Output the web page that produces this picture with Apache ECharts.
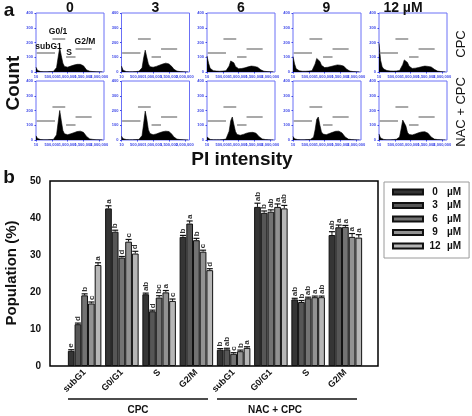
<!DOCTYPE html>
<html><head><meta charset="utf-8">
<script src="https://cdn.jsdelivr.net/npm/echarts@6/dist/echarts.min.js"></script>
<style>html,body{margin:0;padding:0;background:#fff}#c{width:472px;height:416px}</style>
</head><body><div id="c"></div>
<script>
const FONT = 'Liberation Sans, Arial, sans-serif';

// ---------- Panel a data ----------
const DOSE_TITLES = ['0', '3', '6', '9', '12 µM'];
const ROW_LABELS = ['CPC', 'NAC + CPC'];
const PI_TICK_LABELS = ['10', '500,000', '1,000,000', '1,500,000', '2,000,000'];
const COUNT_TICK_LABELS = ['0', '100', '200', '300', '400'];
const PI_BINS = [0, 50000, 100000, 150000, 200000, 250000, 300000, 350000, 400000, 450000,
  500000, 550000, 600000, 650000, 700000, 750000, 800000, 850000, 900000, 950000,
  1000000, 1050000, 1100000, 1150000, 1200000, 1250000, 1300000, 1350000, 1400000, 1450000,
  1500000, 1550000, 1600000, 1650000, 1700000, 1750000, 1800000, 1850000, 1900000, 1950000,
  2000000, 2050000, 2100000];
const HIST_CPC_0  = [32,10,4,3,2,2,2,2,2,3, 3,4,8,30,100,165,110,60,38,32, 33,36,40,44,47,50,52,54,52,50, 42,28,14,8,5,4,3,2,2,1, 1,1,1];
const HIST_CPC_3  = [40,12,5,3,3,2,2,2,3,3, 4,5,8,28,95,148,100,55,36,30, 32,35,38,42,46,50,54,58,60,58, 55,48,35,20,10,6,4,3,2,2, 1,1,1];
const HIST_CPC_6  = [108,60,25,14,9,7,6,5,5,5, 6,6,8,14,40,75,88,62,38,26, 22,22,24,26,28,32,35,38,40,40, 38,36,32,24,15,8,5,4,3,2, 2,1,1];
const HIST_CPC_9  = [105,55,22,12,8,6,5,5,5,5, 6,7,9,18,55,92,104,72,45,34, 30,30,32,34,37,40,43,46,48,48, 46,44,40,30,18,10,6,4,3,2, 2,1,1];
const HIST_CPC_12 = [195,80,35,20,14,10,8,7,6,6, 6,7,8,10,20,50,82,92,65,40, 28,24,24,26,28,30,33,36,38,40, 40,38,36,34,28,18,10,6,4,3, 2,2,1];
const HIST_NAC_0  = [28,10,4,3,2,2,2,2,2,3, 3,4,8,35,120,200,130,65,42,36, 36,38,42,46,50,54,57,60,60,58, 52,40,24,12,7,5,4,3,2,2, 1,1,1];
const HIST_NAC_3  = [26,9,4,3,2,2,2,2,2,3, 3,4,8,30,110,196,140,70,44,36, 36,38,41,45,49,53,56,59,60,60, 57,50,38,22,12,6,4,3,2,2, 1,1,1];
const HIST_NAC_6  = [20,8,4,3,2,2,2,2,2,3, 3,4,6,16,60,130,156,105,58,38, 32,32,34,38,42,46,49,51,52,52, 50,46,36,22,12,7,4,3,2,2, 1,1,1];
const HIST_NAC_9  = [24,8,4,3,2,2,2,2,2,3, 3,4,6,18,70,140,156,100,55,40, 36,36,40,44,48,52,56,59,60,60, 56,48,34,20,10,6,4,3,2,2, 1,1,1];
const HIST_NAC_12 = [40,14,6,4,3,2,2,2,3,3, 4,5,8,20,75,135,148,95,52,38, 34,34,37,41,45,49,52,55,56,56, 53,46,34,20,10,6,4,3,2,2, 1,1,1];
const HISTS = [
  [HIST_CPC_0, HIST_CPC_3, HIST_CPC_6, HIST_CPC_9, HIST_CPC_12],
  [HIST_NAC_0, HIST_NAC_3, HIST_NAC_6, HIST_NAC_9, HIST_NAC_12]
];
const GATE_NAMES = ['subG1', 'G0/1', 'S', 'G2/M'];
const GATE_START = [20000, 520000, 950000, 1250000];
const GATE_END   = [600000, 925000, 1250000, 1760000];
const GATE_LEVEL = [128, 228, 104, 160];

// ---------- Panel b data ----------
const PHASES = ['subG1', 'G0/G1', 'S', 'G2/M', 'subG1', 'G0/G1', 'S', 'G2/M'];
const GROUPS = ['CPC', 'NAC + CPC'];
const DOSE_NAMES = ['0 µM', '3 µM', '6 µM', '9 µM', '12 µM'];
const POP_0  = [4.1, 42.6, 19.4, 34.9, 4.4, 43.0, 18.0, 35.4];
const POP_3  = [11.3, 36.3, 14.8, 38.5, 4.5, 41.4, 17.3, 37.5];
const POP_6  = [19.1, 29.3, 18.5, 34.0, 3.3, 41.7, 18.3, 37.6];
const POP_9  = [16.9, 33.6, 19.9, 30.9, 4.0, 43.0, 18.6, 34.9];
const POP_12 = [27.3, 30.4, 17.6, 25.9, 4.9, 42.6, 18.6, 34.7];
const ERR_0  = [0.3, 0.7, 0.3, 0.4, 0.3, 1.0, 0.3, 0.9];
const ERR_3  = [0.3, 0.4, 0.3, 0.7, 0.3, 0.5, 0.4, 0.6];
const ERR_6  = [0.4, 0.3, 0.5, 0.5, 0.3, 0.5, 0.3, 0.4];
const ERR_9  = [0.4, 0.6, 0.5, 0.4, 0.3, 0.8, 0.3, 0.9];
const ERR_12 = [0.6, 0.6, 0.5, 0.4, 0.3, 0.8, 0.3, 0.8];
const LET_0  = ['e', 'a', 'ab', 'b', 'b', 'ab', 'ab', 'ab'];
const LET_3  = ['d', 'b', 'd', 'a', 'ab', 'b', 'b', 'a'];
const LET_6  = ['b', 'd', 'bc', 'b', 'c', 'ab', 'ab', 'a'];
const LET_9  = ['c', 'c', 'a', 'c', 'b', 'a', 'a', 'a'];
const LET_12 = ['a', 'd', 'c', 'd', 'a', 'ab', 'ab', 'a'];
const POPS = [POP_0, POP_3, POP_6, POP_9, POP_12];
const ERRS = [ERR_0, ERR_3, ERR_6, ERR_9, ERR_12];
const LETS = [LET_0, LET_3, LET_6, LET_9, LET_12];
const BAR_COLORS = ['#353535', '#565656', '#737373', '#929292', '#b6b6b6'];

// ---------- Layout ----------
const COL_LEFT = [36, 121.5, 207, 293, 379];
const ROW_TOP = [13, 81];
const HIST_W = 68, HIST_H = 59;
const BLUE = '#3c46e8';

const grid = [], xAxis = [], yAxis = [], series = [];
let gi = 0;
for (let r = 0; r < 2; r++) {
  for (let c = 0; c < 5; c++) {
    grid.push({left: COL_LEFT[c], top: ROW_TOP[r], width: HIST_W, height: HIST_H,
      show: true, borderColor: '#6b70f6', borderWidth: 1});
    xAxis.push({type: 'value', gridIndex: gi, min: 0, max: 2150000, interval: 500000,
      axisLine: {show: false}, splitLine: {show: false},
      axisTick: {show: true, length: 1.5, lineStyle: {color: BLUE}},
      axisLabel: {fontSize: 4, color: BLUE, margin: 3, fontFamily: FONT, fontWeight: 'bold',
        showMaxLabel: false,
        formatter: v => { const k = Math.round(v / 500000); return (v % 500000 === 0 && PI_TICK_LABELS[k]) ? PI_TICK_LABELS[k] : ''; }}});
    yAxis.push({type: 'value', gridIndex: gi, min: 0, max: 400, interval: 100,
      axisLine: {show: false}, splitLine: {show: false},
      axisTick: {show: true, length: 1.5, lineStyle: {color: BLUE}},
      axisLabel: {fontSize: 4, color: BLUE, margin: 3, fontFamily: FONT, fontWeight: 'bold',
        formatter: v => COUNT_TICK_LABELS[Math.round(v / 100)] || ''}});
    const h = HISTS[r][c];
    series.push({type: 'line', xAxisIndex: gi, yAxisIndex: gi, silent: true,
      data: PI_BINS.map((x, j) => [x, h[j]]), symbol: 'none',
      lineStyle: {color: '#000', width: 0.6}, areaStyle: {color: '#000', opacity: 1},
      markLine: {silent: true, symbol: ['none', 'none'], label: {show: false},
        lineStyle: {color: '#8c8c8c', width: 1.5, type: 'solid'},
        data: GATE_START.map((s, g) => [{coord: [s, GATE_LEVEL[g]]}, {coord: [GATE_END[g], GATE_LEVEL[g]]}])}});
    gi++;
  }
}

// Panel b bar grid
const BAR_GRID = gi;
grid.push({left: 66, top: 181, width: 298, height: 185});
xAxis.push({type: 'category', gridIndex: BAR_GRID, data: PHASES,
  axisLine: {show: false}, axisTick: {show: false},
  axisLabel: {interval: 0, rotate: 45, fontSize: 9, fontWeight: 'bold', color: '#111', fontFamily: FONT, margin: 5}});
yAxis.push({type: 'value', gridIndex: BAR_GRID, min: 0, max: 50, interval: 10, offset: 16,
  axisLine: {show: false}, axisTick: {show: false}, splitLine: {show: false},
  axisLabel: {fontSize: 10, fontWeight: 'bold', color: '#111', fontFamily: FONT, margin: 9}});
// frame grid
const FRAME_GRID = gi + 1;
grid.push({left: 50, top: 181, width: 328, height: 185, show: true, borderColor: '#000', borderWidth: 1.5});
xAxis.push({type: 'value', gridIndex: FRAME_GRID, show: false, min: 0, max: 1});
yAxis.push({type: 'value', gridIndex: FRAME_GRID, show: false, min: 0, max: 1});

for (let k = 0; k < 5; k++) {
  series.push({type: 'bar', name: DOSE_NAMES[k], xAxisIndex: BAR_GRID, yAxisIndex: BAR_GRID,
    data: POPS[k], barGap: '0%', barCategoryGap: '10%', silent: true,
    itemStyle: {color: BAR_COLORS[k], borderColor: '#111', borderWidth: 1}});
}
for (let k = 0; k < 5; k++) {
  series.push({type: 'custom', xAxisIndex: BAR_GRID, yAxisIndex: BAR_GRID, silent: true, z: 5,
    data: POPS[k].map((v, i) => [i, v, ERRS[k][i]]),
    renderItem: (params, api) => {
      const i = api.value(0), v = api.value(1), e = api.value(2);
      const band = api.size([1, 0])[0];
      const bw = band * 0.9 / 5;
      const cx = api.coord([i, 0])[0] - band * 0.45 + bw * (k + 0.5);
      const yb = api.coord([i, v])[1];
      const yt = api.coord([i, v + e])[1];
      const cw = bw * 0.45;
      return {type: 'group', children: [
        {type: 'line', shape: {x1: cx, y1: yb, x2: cx, y2: yt}, style: {stroke: '#111', lineWidth: 1}},
        {type: 'line', shape: {x1: cx - cw, y1: yt, x2: cx + cw, y2: yt}, style: {stroke: '#111', lineWidth: 1.2}},
        {type: 'text', x: cx, y: yt - 2, rotation: Math.PI / 2,
          style: {text: LETS[k][params.dataIndex], font: 'bold 8px ' + FONT, fill: '#333',
            textAlign: 'left', textVerticalAlign: 'middle'}}
      ]};
    }});
}

function txt(x, y, text, font, opts) {
  return Object.assign({type: 'text', x: x, y: y,
    style: {text: text, font: font, fill: '#111', textAlign: 'center', textVerticalAlign: 'middle'}}, opts || {});
}
const graphic = [
  txt(9, 11, 'a', 'bold 19px ' + FONT),
  txt(9, 178, 'b', 'bold 19px ' + FONT),
  txt(70, 8, DOSE_TITLES[0], 'bold 14px ' + FONT),
  txt(155.5, 8, DOSE_TITLES[1], 'bold 14px ' + FONT),
  txt(241, 8, DOSE_TITLES[2], 'bold 14px ' + FONT),
  txt(326.5, 8, DOSE_TITLES[3], 'bold 14px ' + FONT),
  txt(403, 8, DOSE_TITLES[4], 'bold 14px ' + FONT),
  txt(461, 44, ROW_LABELS[0], '13px ' + FONT, {rotation: Math.PI / 2}),
  txt(461, 112, ROW_LABELS[1], '13px ' + FONT, {rotation: Math.PI / 2}),
  txt(14, 83, 'Count', 'bold 19px ' + FONT, {rotation: Math.PI / 2}),
  txt(242, 160, 'PI intensity', 'bold 19px ' + FONT),
  txt(12, 273, 'Population (%)', 'bold 15px ' + FONT, {rotation: Math.PI / 2}),
  txt(48.5, 46.5, GATE_NAMES[0], 'bold 8.5px ' + FONT),
  txt(58, 32, GATE_NAMES[1], 'bold 8.5px ' + FONT),
  txt(69, 52.5, GATE_NAMES[2], 'bold 8.5px ' + FONT),
  txt(85, 42, GATE_NAMES[3], 'bold 8.5px ' + FONT),
  {type: 'line', shape: {x1: 68, y1: 399, x2: 208, y2: 399}, style: {stroke: '#111', lineWidth: 1.5}},
  {type: 'line', shape: {x1: 217, y1: 399, x2: 357, y2: 399}, style: {stroke: '#111', lineWidth: 1.5}},
  txt(138, 410, GROUPS[0], 'bold 10px ' + FONT),
  txt(275, 410, GROUPS[1], 'bold 10px ' + FONT)
];

const chart = echarts.init(document.getElementById('c'), null, {renderer: 'canvas'});
chart.setOption({
  animation: false,
  backgroundColor: '#fff',
  grid: grid, xAxis: xAxis, yAxis: yAxis, series: series, graphic: graphic,
  legend: {data: DOSE_NAMES, orient: 'vertical', left: 384, top: 182,
    itemWidth: 30, itemHeight: 5, itemGap: 3.5, padding: [5, 8, 7, 8],
    borderColor: '#9a9a9a', borderWidth: 1, icon: 'rect', selectedMode: false,
    textStyle: {fontFamily: FONT, fontWeight: 'bold', fontSize: 10, color: '#111',
      rich: {n: {width: 14, align: 'right', fontWeight: 'bold', fontSize: 10, fontFamily: FONT, color: '#111'},
             u: {fontWeight: 'bold', fontSize: 10, fontFamily: FONT, color: '#111', padding: [0, 0, 0, 5]}}},
    formatter: name => { const p = name.split(' '); return '{n|' + p[0] + '}{u|' + p[1] + '}'; }}
});
</script></body></html>
